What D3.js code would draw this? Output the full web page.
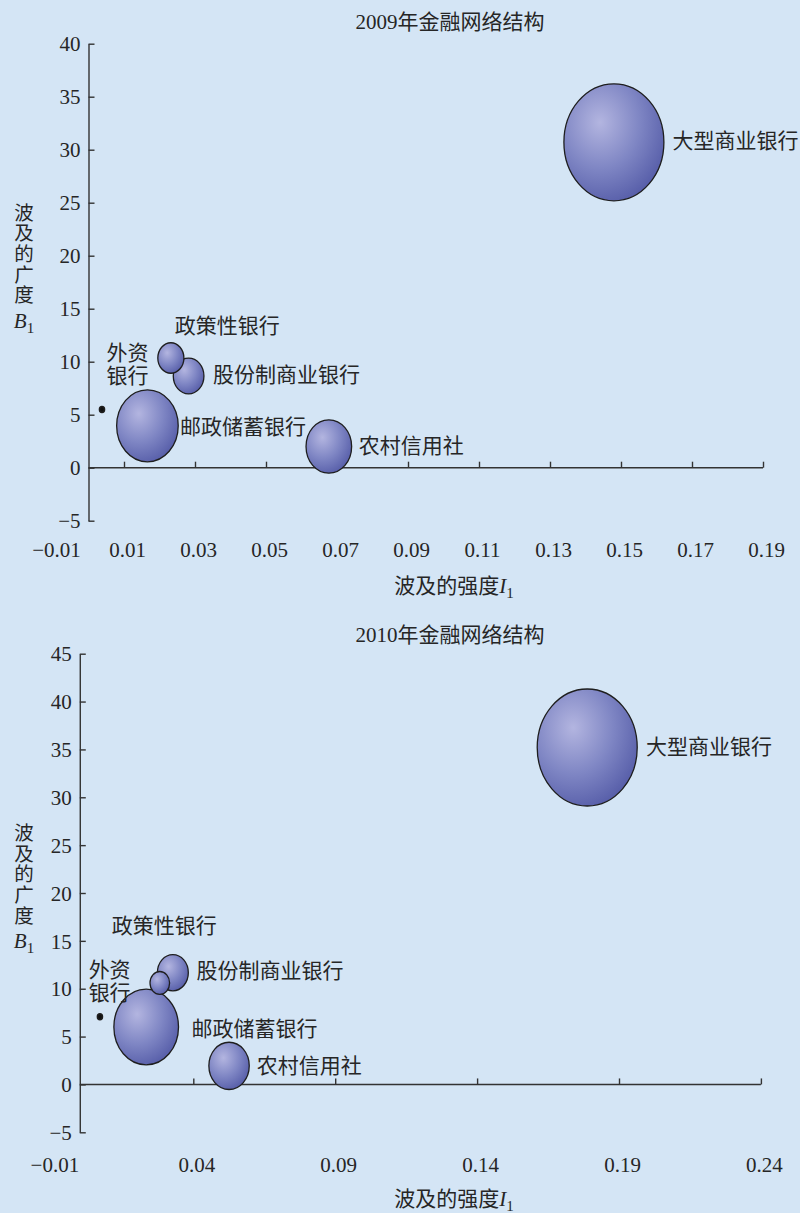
<!DOCTYPE html>
<html>
<head>
<meta charset="utf-8">
<script src="https://cdn.jsdelivr.net/npm/d3@7"></script>
<style>
    body { margin: 0; background: #d4e5f5; }
    text { font-family: 'Liberation Serif', 'Noto Sans CJK SC', serif; fill: #262626; }
</style>
</head>
<body>
<div id="imageContainer"></div>
<script>
// bank groups (same order in both years)
var banks = ['大型商业银行', '股份制商业银行', '政策性银行', '农村信用社', '邮政储蓄银行', '外资银行'];

// 2009: intensity I1, breadth B1, relative bubble size
var intensity_2009 = [0.148, 0.0282, 0.0232, 0.0677, 0.0166, 0.0038];
var breadth_2009 = [30.7, 8.65, 10.35, 2.0, 3.95, 5.5];
var size_2009 = [1.0, 0.094, 0.068, 0.208, 0.379, 0.0025];

// 2010
var intensity_2010 = [0.1788, 0.0328, 0.0282, 0.0526, 0.0234, 0.0071];
var breadth_2010 = [35.2, 11.67, 10.6, 1.94, 6.0, 7.07];
var size_2010 = [1.0, 0.0955, 0.0384, 0.163, 0.418, 0.0025];

// tick labels
var x_ticks_2009 = [-0.01, 0.01, 0.03, 0.05, 0.07, 0.09, 0.11, 0.13, 0.15, 0.17, 0.19];
var y_ticks_2009 = [-5, 0, 5, 10, 15, 20, 25, 30, 35, 40];
var x_ticks_2010 = [-0.01, 0.04, 0.09, 0.14, 0.19, 0.24];
var y_ticks_2010 = [-5, 0, 5, 10, 15, 20, 25, 30, 35, 40, 45];

(function() {
    var width = 800,
        height = 1213,
        bg_color = '#d4e5f5',
        axis_color = '#333',
        font_size = 21,
        max_radius = 50,
        stretch = 1.17;

    var svg = d3.select('#imageContainer').append('svg')
        .attr('width', width)
        .attr('height', height);

    svg.append('rect')
        .attr('width', width)
        .attr('height', height)
        .attr('fill', bg_color);

    // shaded bubble fill
    var grad = svg.append('defs').append('radialGradient')
        .attr('id', 'bubble')
        .attr('cx', '36%')
        .attr('cy', '33%')
        .attr('r', '72%');
    grad.append('stop').attr('offset', '0%').attr('stop-color', '#b3b5e0');
    grad.append('stop').attr('offset', '55%').attr('stop-color', '#7f86c4');
    grad.append('stop').attr('offset', '100%').attr('stop-color', '#575ea9');

    var r = d3.scaleSqrt().domain([0, 1]).range([0, max_radius]);

    function draw_chart(c) {
        var g = svg.append('g');

        var x = d3.scaleLinear().domain(c.x_domain).range(c.x_range);
        var y = d3.scaleLinear().domain(c.y_domain).range(c.y_range);
        var x0 = x(0);

        // title
        g.append('text')
            .attr('x', 450)
            .attr('y', c.title_y)
            .attr('text-anchor', 'middle')
            .attr('font-size', font_size)
            .text(c.title);

        // y axis (crosses at x = 0)
        var ya = g.append('g')
            .attr('transform', 'translate(' + x0 + ',0)')
            .call(d3.axisLeft(y).tickValues(c.y_ticks).tickSizeInner(-6).tickSizeOuter(0).tickFormat(d3.format('d')));
        ya.select('.domain').attr('stroke', axis_color).attr('stroke-width', 1.4);
        ya.selectAll('.tick line').attr('stroke', axis_color).attr('stroke-width', 1.4);
        ya.selectAll('.tick text')
            .attr('x', -8)
            .attr('dy', '0.34em')
            .attr('font-size', font_size)
            .attr('font-family', null)
            .attr('fill', null);

        // x axis, line starts at the y axis
        var xa = g.append('g')
            .attr('transform', 'translate(0,' + y(0) + ')')
            .call(d3.axisBottom(x).tickValues(c.x_ticks).tickSizeInner(-6).tickSizeOuter(0).tickFormat(d3.format('.2f')));
        xa.select('.domain')
            .attr('d', 'M' + x0 + ',0H' + x(c.x_domain[1]))
            .attr('stroke', axis_color)
            .attr('stroke-width', 1.4);
        xa.selectAll('.tick line')
            .attr('stroke', axis_color)
            .attr('stroke-width', 1.4)
            .attr('display', function(d) { return d < 0 ? 'none' : null; });
        xa.selectAll('.tick text')
            .attr('y', c.x_label_offset)
            .attr('dx', 3)
            .attr('dy', '0.35em')
            .attr('font-size', font_size)
            .attr('font-family', null)
            .attr('fill', null);

        // axis titles
        var xt = g.append('text')
            .attr('x', 454)
            .attr('y', c.x_title_y)
            .attr('text-anchor', 'middle')
            .attr('font-size', font_size);
        xt.append('tspan').text('波及的强度');
        xt.append('tspan').attr('font-style', 'italic').text('I');
        xt.append('tspan').attr('font-size', 15).attr('dy', 5).text('1');

        // stacked vertical title
        var chars = '波及的广度'.split('');
        chars.forEach(function(ch, i) {
            g.append('text')
                .attr('x', 24)
                .attr('y', c.y_title_top + i * 20.7)
                .attr('dy', '0.36em')
                .attr('text-anchor', 'middle')
                .attr('font-size', 19.5)
                .text(ch);
        });
        var yt = g.append('text')
            .attr('x', 24)
            .attr('y', c.y_title_top + 5 * 20.7 + 4)
            .attr('dy', '0.36em')
            .attr('text-anchor', 'middle')
            .attr('font-size', font_size);
        yt.append('tspan').attr('font-style', 'italic').text('B');
        yt.append('tspan').attr('font-size', 15).attr('dy', 5).text('1');

        // bubbles, big ones behind
        var pts = banks.map(function(b, i) {
            return { name: b, x: c.xs[i], y: c.ys[i], s: c.sizes[i], lab: c.labels[i] };
        });
        var order = pts.slice().sort(function(a, b) { return b.s - a.s; });

        g.selectAll('ellipse.bubble')
            .data(order)
            .enter().append('ellipse')
            .attr('class', 'bubble')
            .attr('cx', function(d) { return x(d.x); })
            .attr('cy', function(d) { return y(d.y); })
            .attr('rx', function(d) { return r(d.s); })
            .attr('ry', function(d) { return r(d.s) * stretch; })
            .attr('fill', function(d) { return d.s < 0.01 ? '#111' : 'url(#bubble)'; })
            .attr('stroke', '#1e1e1e')
            .attr('stroke-width', function(d) { return d.s < 0.01 ? 1.6 : 1.3; });

        // labels
        pts.forEach(function(d) {
            var lines = d.lab.lines || [d.name];
            lines.forEach(function(line, j) {
                g.append('text')
                    .attr('x', x(d.x) + d.lab.dx)
                    .attr('y', y(d.y) + d.lab.dy + j * 23.5)
                    .attr('dy', '0.36em')
                    .attr('text-anchor', d.lab.anchor || 'start')
                    .attr('font-size', font_size)
                    .text(line);
            });
        });
    }

    // 2009
    draw_chart({
        title: '2009年金融网络结构',
        title_y: 29,
        xs: intensity_2009,
        ys: breadth_2009,
        sizes: size_2009,
        x_domain: [-0.01, 0.19],
        x_range: [53, 763],
        y_domain: [-5, 40],
        y_range: [520.7, 43.7],
        x_ticks: x_ticks_2009,
        y_ticks: y_ticks_2009,
        x_label_offset: 82,
        x_title_y: 593,
        y_title_top: 212.5,
        labels: [
            { dx: 58.7, dy: -2 },
            { dx: 24.3, dy: -2 },
            { dx: 4, dy: -33 },
            { dx: 30, dy: -1.5 },
            { dx: 32.5, dy: 1 },
            { dx: 25.5, dy: -57, anchor: 'middle', lines: ['外资', '银行'] }
        ]
    });

    // 2010
    draw_chart({
        title: '2010年金融网络结构',
        title_y: 642,
        xs: intensity_2010,
        ys: breadth_2010,
        sizes: size_2010,
        x_domain: [-0.01, 0.24],
        x_range: [51.4, 760.9],
        y_domain: [-5, 45],
        y_range: [1132.3, 653.7],
        x_ticks: x_ticks_2010,
        y_ticks: y_ticks_2010,
        x_label_offset: 80,
        x_title_y: 1206,
        y_title_top: 833,
        labels: [
            { dx: 58.7, dy: -1 },
            { dx: 23.7, dy: -2 },
            { dx: -48, dy: -57.7 },
            { dx: 27.7, dy: -0.8 },
            { dx: 45.4, dy: 1.3 },
            { dx: 9.7, dy: -47.7, anchor: 'middle', lines: ['外资', '银行'] }
        ]
    });
})();
</script>
</body>
</html>
